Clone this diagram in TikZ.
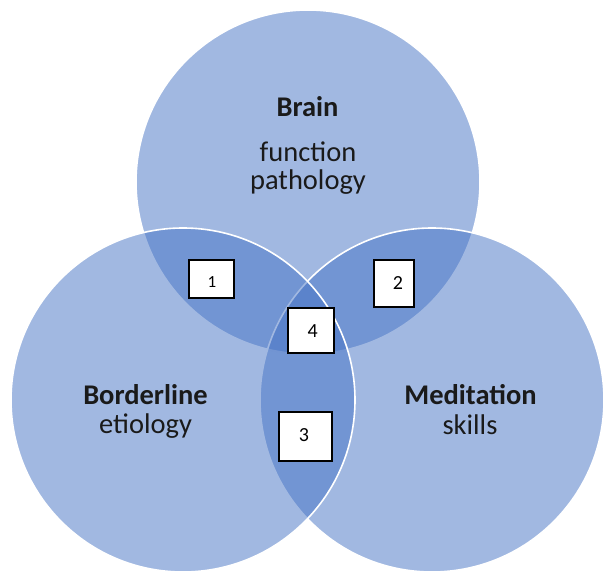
\documentclass[tikz,border=0pt]{standalone}
\usepackage{fontspec}
\setmainfont{Carlito}
\definecolor{vennblue}{HTML}{4472C4}
\definecolor{txt}{HTML}{1A1A1A}
\tikzset{
  venn/.style={circle, minimum size=344pt, inner sep=0pt, fill=vennblue, fill opacity=0.5, draw=white, line width=1.6pt},
  head/.style={anchor=base, font=\fontsize{28.5}{34}\selectfont\bfseries, text=txt, inner sep=0pt},
  sub/.style={anchor=base, font=\fontsize{28.5}{34}\selectfont, text=txt, inner sep=0pt},
  numbox/.style={draw=black, fill=white, line width=2pt, inner sep=0pt},
  numtxt/.style={font=\fontsize{20}{24}\selectfont, text=black, inner sep=0pt},
}
\begin{document}
\begin{tikzpicture}[x=1pt,y=-1pt]
\useasboundingbox (0,0) rectangle (603,575);
% circles (top, right, left drawn in this order)
\node[venn] (brain) at (308,182) {};
\node[venn] (medit) at (432,400) {};
\node[venn] (border) at (183,400) {};
% labels
\node[head] (brainT) at (307.5,117) {Brain};
\node[sub] (brainA) at (308,162) {function};
\node[sub] (brainB) at (308,190) {pathology};
\node[head] (borderT) at (145.5,404) {Borderline};
\node[sub] (borderA) at (145.5,433) {etiology};
\node[head] (meditT) at (470.5,404) {Meditation};
\node[sub] (meditA) at (470,434) {skills};
% numbered boxes
\node[numbox, minimum width=45pt, minimum height=38pt] (box1) at (211,278.5) {};
\node[numtxt, font=\fontsize{17}{20}\selectfont] (n1) at (212,282) {1};
\node[numbox, minimum width=40pt, minimum height=47pt] (box2) at (393.5,283) {};
\node[numtxt] (n2) at (398,283) {2};
\node[numbox, minimum width=46pt, minimum height=45pt] (box4) at (310.5,330) {};
\node[numtxt] (n4) at (312.7,331.5) {4};
\node[numbox, minimum width=53pt, minimum height=49pt] (box3) at (305,436) {};
\node[numtxt] (n3) at (304,435.5) {3};
\end{tikzpicture}
\end{document}
